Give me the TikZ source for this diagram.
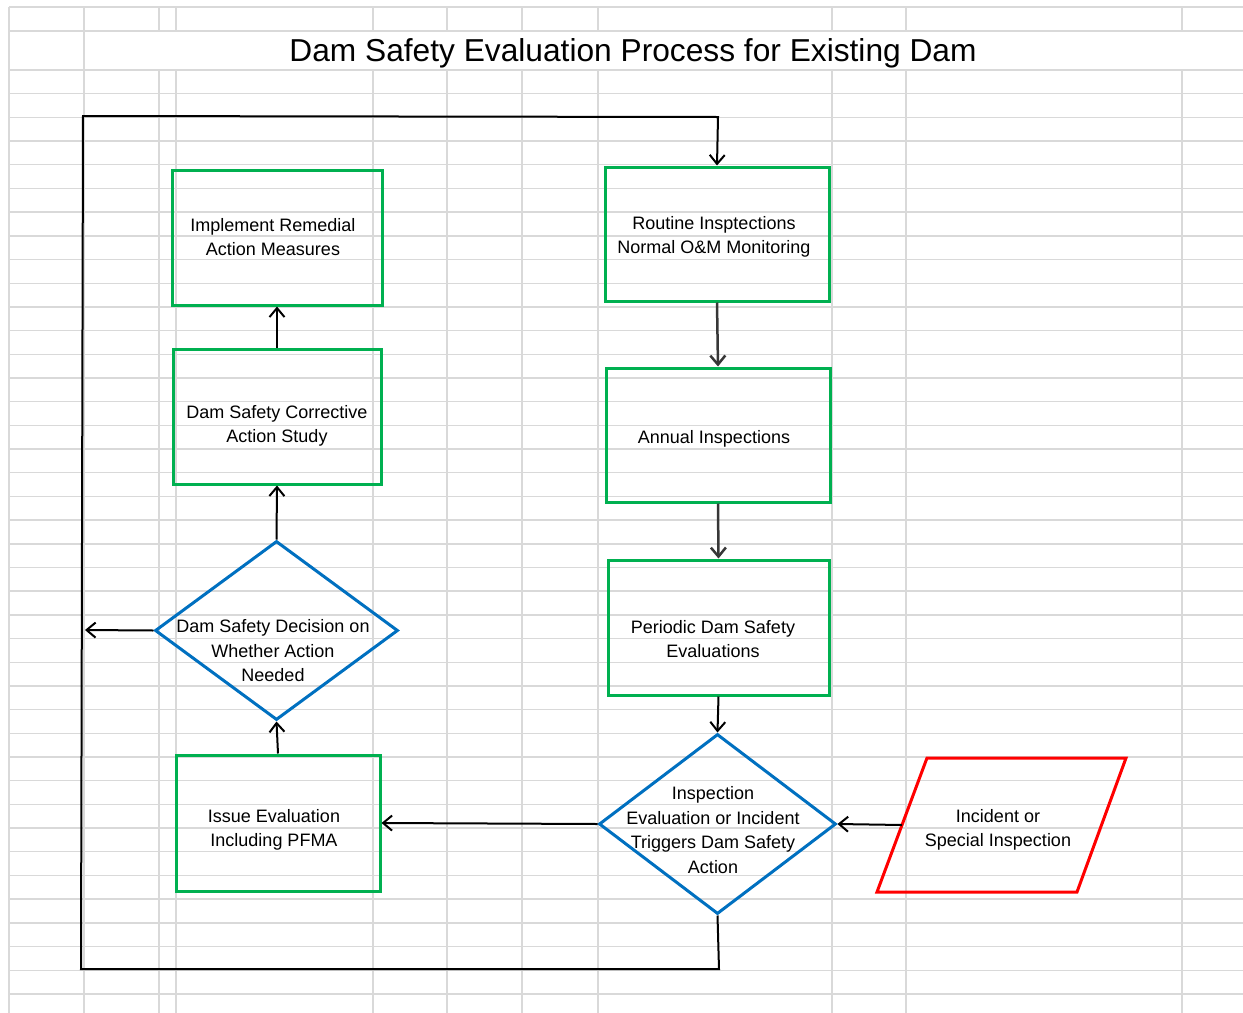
\documentclass[tikz,border=0pt]{standalone}
\usepackage{fontspec}
\setmainfont{Liberation Sans}
\usetikzlibrary{shapes.geometric,arrows.meta}
\definecolor{gridc}{RGB}{217,217,217}
\definecolor{boxgreen}{RGB}{0,176,80}
\definecolor{decblue}{RGB}{0,112,192}
\definecolor{incred}{RGB}{255,0,0}
\definecolor{arrdark}{RGB}{55,55,55}
\begin{document}
\begin{tikzpicture}[x=1bp,y=-1bp,
  gridline/.style={draw=gridc,line width=1.4bp},
  procbox/.style={draw=boxgreen,line width=3bp,rectangle,inner sep=0pt},
  decision/.style={draw=decblue,line width=3bp,diamond,inner sep=0pt},
  inputline/.style={draw=incred,line width=3bp,line join=miter},
  labeltext/.style={font=\fontsize{18bp}{24.5bp}\selectfont,align=center,inner sep=0pt},
  flow/.style={draw=black,line width=2bp,-{Straight Barb[length=9bp,width=15bp]}},
  flowdark/.style={draw=arrdark,line width=2.5bp,-{Straight Barb[length=9bp,width=15bp]}},
]
\useasboundingbox (0,0) rectangle (1243,1013);
% spreadsheet grid
\foreach \y in {7,31} \draw[gridline] (9,\y) -- (1243,\y);
\foreach \k in {0,...,39} \draw[gridline] (9,{70+23.69*\k}) -- (1243,{70+23.69*\k});
\draw[gridline] (9,7) -- (9,1013);
\draw[gridline] (84,7) -- (84,1013);
\foreach \x in {159,176,373,447,522,598,832,906,1182} {
  \draw[gridline] (\x,7) -- (\x,31);
  \draw[gridline] (\x,70) -- (\x,1013);
}
% title
\node[font=\fontsize{31.7bp}{36bp}\selectfont,inner sep=0pt] (title) at (633,53) {Dam Safety Evaluation Process for Existing Dam};
% shapes
\node[procbox,minimum width=210bp,minimum height=135bp] (impl) at (277,237.5) {};
\node[procbox,minimum width=208bp,minimum height=135bp] (corr) at (277,416.5) {};
\node[decision,minimum width=243bp,minimum height=179bp] (dec1) at (276.5,630.5) {};
\node[procbox,minimum width=204bp,minimum height=136bp] (issue) at (278,823) {};
\node[procbox,minimum width=224bp,minimum height=134bp] (rout) at (717,234) {};
\node[procbox,minimum width=224bp,minimum height=134bp] (annual) at (718,435) {};
\node[procbox,minimum width=221bp,minimum height=135bp] (period) at (718.5,627.5) {};
\node[decision,minimum width=237bp,minimum height=180bp] (dec2) at (717.5,824) {};
% parallelogram (input)
\coordinate (incTL) at (927,758);
\coordinate (incTR) at (1126,758);
\coordinate (incBR) at (1077,892);
\coordinate (incBL) at (877,892);
\coordinate (incL) at (902,825);
\draw[inputline] (incTL) -- (incTR) -- (incBR) -- (incBL) -- cycle;
% texts
\node[labeltext] (impl-t) at (273,237) {Implement Remedial\\Action Measures};
\node[labeltext] (corr-t) at (277,426) {Dam Safety Corrective\\Action Study};
\node[labeltext] (dec1-t) at (273,651) {Dam Safety Decision on\\Whether Action\\Needed};
\node[labeltext] (issue-t) at (274,830) {Issue Evaluation\\Including PFMA};
\node[labeltext] (rout-t) at (714,237) {Routine Insptections\\Normal O\&M Monitoring};
\node[labeltext] (annual-t) at (714,439) {Annual Inspections};
\node[labeltext] (period-t) at (713,639) {Periodic Dam Safety\\Evaluations};
\node[labeltext] (dec2-t) at (713,830) {Inspection\\Evaluation or Incident\\Triggers Dam Safety\\Action};
\node[labeltext] (inc-t) at (998,830) {Incident or\\Special Inspection};
% loop coordinates
\coordinate (lpBR) at (719,969);
\coordinate (lpBL) at (81,969);
\coordinate (lpTL) at (83,116);
\coordinate (lpTR) at (718,117);
\coordinate (hit) at (85,630);
% connectors
\draw[flowdark] (rout.south) -- (annual.north);
\draw[flowdark] (annual.south) -- (period.north);
\draw[flow] (period.south) -- (dec2.north);
\draw[flow] (incL) -- (dec2.east);
\draw[flow] (dec2.west) -- (issue.east);
\draw[flow] (issue.north) -- (dec1.south);
\draw[flow] (dec1.north) -- (corr.south);
\draw[flow] (corr.north) -- (impl.south);
\draw[flow] (dec1.west) -- (hit);
\draw[flow] (dec2.south) -- (lpBR) -- (lpBL) -- (lpTL) -- (lpTR) -- (rout.north);
\end{tikzpicture}
\end{document}
